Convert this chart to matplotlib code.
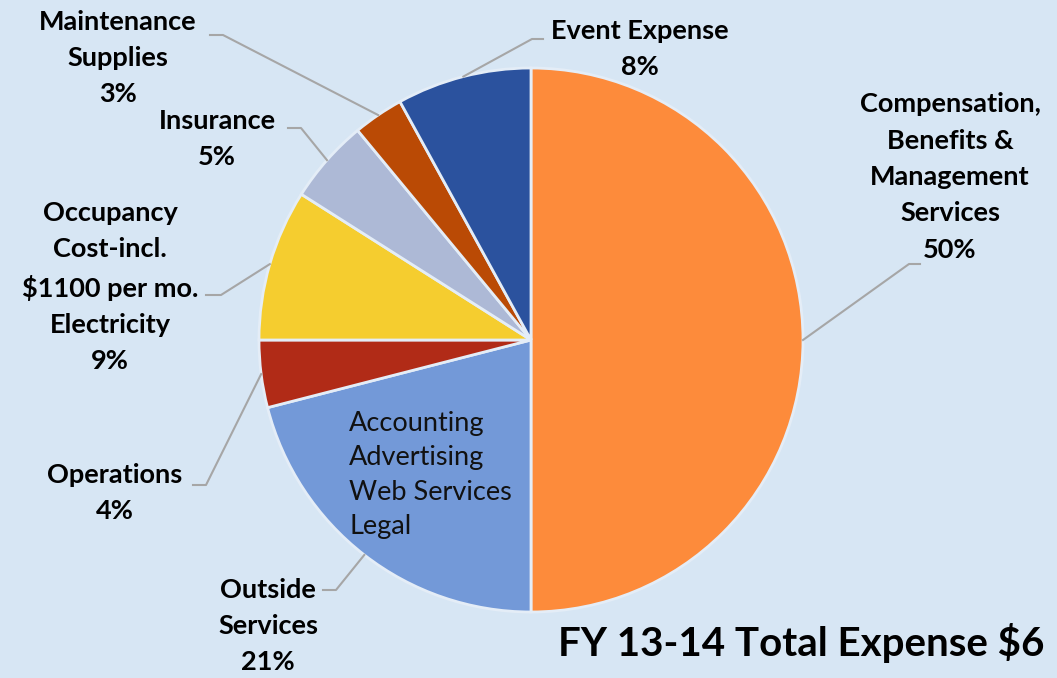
import numpy as np
import matplotlib.pyplot as plt

# expense categories, clockwise from 12 o'clock
categories = ["Compensation,\nBenefits &\nManagement\nServices",
              "Outside\nServices",
              "Operations",
              "Occupancy\nCost-incl.\n$1100 per mo.\nElectricity",
              "Insurance",
              "Maintenance\nSupplies",
              "Event Expense"]
shares = [50, 21, 4, 9, 5, 3, 8]
colors = ["#FD8B3B", "#7399D8", "#B12B17", "#F5CD2F", "#ADB9D6", "#BA4A05", "#2B529E"]
outside_items = ["Accounting", "Advertising", "Web Services", "Legal"]
title = "FY 13-14 Total Expense $6"

W, H = 1057, 678
CX, CY, R = 531, 340, 272
BG = "#D7E6F4"


def px(x, y):
    # pixel (from top-left) -> data coords, pie radius = 1
    return (x - CX) / R, (CY - y) / R


fig = plt.figure(figsize=(W / 100, H / 100), dpi=100, facecolor=BG)
ax = fig.add_axes([0, 0, 1, 1])
ax.set_facecolor(BG)

wedges, _ = ax.pie(shares, colors=colors, startangle=90, counterclock=False,
                   radius=1, wedgeprops=dict(edgecolor="#E4EDF7", linewidth=2))

# pie() resets the limits, so set them afterwards
ax.set_xlim(-CX / R, (W - CX) / R)
ax.set_ylim(-(H - CY) / R, CY / R)
ax.set_aspect("equal")
ax.axis("off")

# label text centres and leader elbows, in pixels
label_pos = [(950, 177), (268, 626), (115, 493), (110, 287), (217, 139), (118, 58), (640, 49)]
elbows = [[(920, 264), (909, 264)],
          [(323, 590), (336, 590)],
          [(193, 485), (206, 485)],
          [(206, 295), (221, 295)],
          [(288, 128), (301, 128)],
          [(210, 35), (223, 35)],
          [(543, 39), (532, 39)]]

lfont = dict(family=["Lato", "DejaVu Sans"], fontweight="bold", fontsize=19.5)
for w, name, val, pos, el in zip(wedges, categories, shares, label_pos, elbows):
    mid = np.deg2rad((w.theta1 + w.theta2) / 2)
    pts = [px(*p) for p in el] + [(np.cos(mid), np.sin(mid))]
    xs, ys = zip(*pts)
    ax.plot(xs, ys, color="#A6A6A6", lw=1.5, zorder=1)
    tx, ty = px(*pos)
    ax.text(tx, ty, f"{name}\n{val}%", ha="center", va="center",
            linespacing=1.62, color="black", **lfont)

ix, iy = px(349, 475)
ax.text(ix, iy, "\n".join(outside_items), ha="left", va="center",
        fontsize=19.5, family=["Lato", "DejaVu Sans"], color="#111111", linespacing=1.47)

tx, ty = px(558, 643)
ax.text(tx, ty, title, ha="left", va="center", fontsize=29, fontweight="bold",
        family=["Lato", "DejaVu Sans"], color="black")

fig.savefig("out.png", dpi=100, facecolor=BG)
